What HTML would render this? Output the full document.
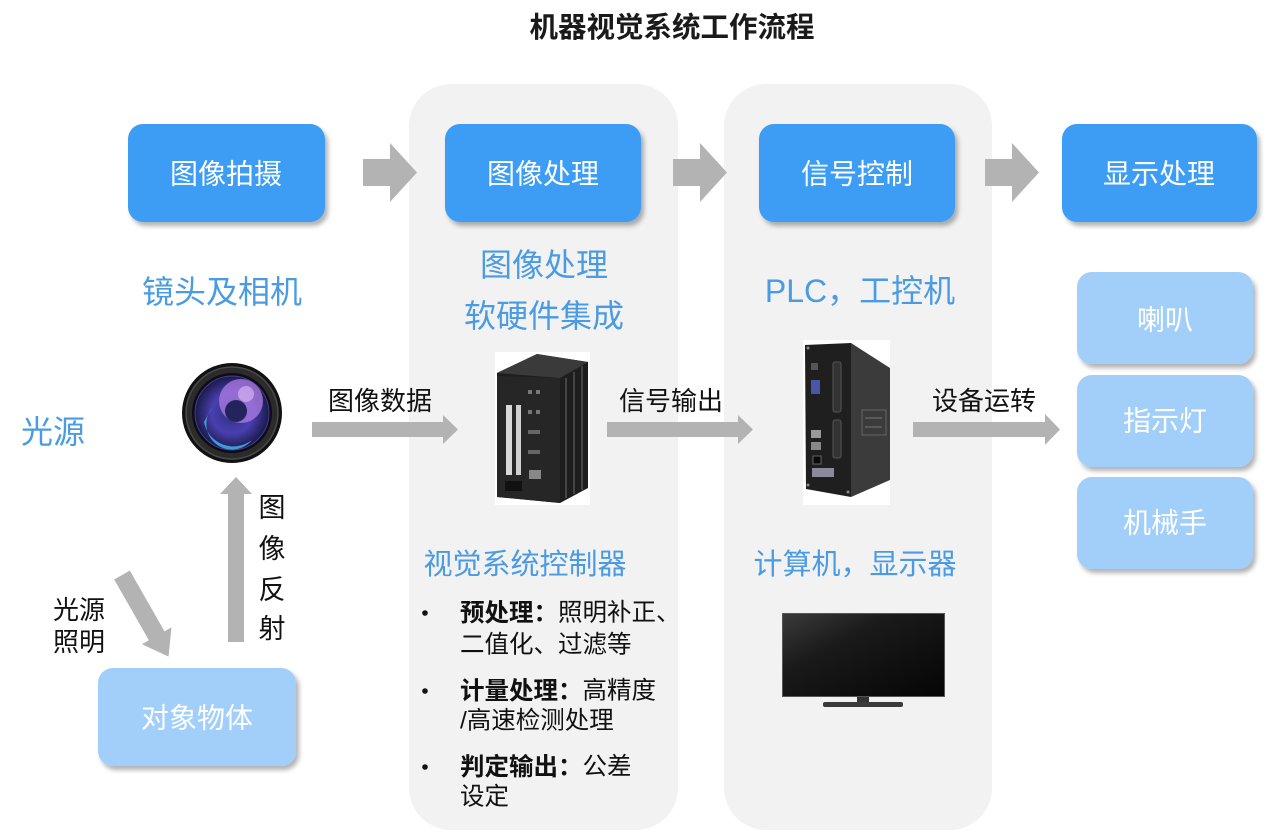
<!DOCTYPE html>
<html>
<head>
<meta charset="utf-8">
<style>
  html,body{margin:0;padding:0;background:#fff;}
  svg{display:block;}
  text{font-family:"Liberation Sans","Noto Sans CJK SC",sans-serif;}
</style>
</head>
<body>
<svg width="1269" height="832" viewBox="0 0 1269 832" xmlns="http://www.w3.org/2000/svg">
  <defs>
    <filter id="sh" x="-10%" y="-10%" width="130%" height="140%">
      <feDropShadow dx="3" dy="4" stdDeviation="2.5" flood-color="#000" flood-opacity="0.3"/>
    </filter>
    <radialGradient id="lens" cx="50%" cy="50%" r="50%">
      <stop offset="0" stop-color="#2a2f7a"/>
      <stop offset="0.55" stop-color="#4a3fb0"/>
      <stop offset="1" stop-color="#1a1a48"/>
    </radialGradient>
    <linearGradient id="tv" x1="0" y1="0" x2="1" y2="1">
      <stop offset="0" stop-color="#3a3a3a"/>
      <stop offset="0.35" stop-color="#1a1a1a"/>
      <stop offset="1" stop-color="#050505"/>
    </linearGradient>
  </defs>

  <!-- Title -->
  <text x="672" y="28" text-anchor="middle" dominant-baseline="central" font-size="28.5" font-weight="bold" fill="#1a1a1a">机器视觉系统工作流程</text>

  <!-- Panels -->
  <rect x="409" y="84" width="269" height="746" rx="42" fill="#f2f2f2"/>
  <rect x="724" y="84" width="268" height="746" rx="42" fill="#f2f2f2"/>

  <!-- Top blue boxes -->
  <g filter="url(#sh)">
    <rect x="128" y="124" width="197" height="98" rx="15" fill="#3e9cf4"/>
    <rect x="445" y="124" width="196" height="98" rx="15" fill="#3e9cf4"/>
    <rect x="759" y="124" width="196" height="98" rx="15" fill="#3e9cf4"/>
    <rect x="1062" y="124" width="195" height="98" rx="15" fill="#3e9cf4"/>
  </g>
  <g font-size="28" fill="#fff" text-anchor="middle" dominant-baseline="central">
    <text x="226" y="174">图像拍摄</text>
    <text x="543" y="174">图像处理</text>
    <text x="857" y="174">信号控制</text>
    <text x="1159" y="174">显示处理</text>
  </g>

  <!-- Top arrows -->
  <g fill="#b3b3b3">
    <polygon points="363,159 390,159 390,143 417,172.5 390,202 390,186 363,186"/>
    <polygon points="673,159 700,159 700,143 727,172.5 700,202 700,186 673,186"/>
    <polygon points="985,159 1012,159 1012,143 1039,172.5 1012,202 1012,186 985,186"/>
  </g>

  <!-- Blue descriptive text -->
  <g fill="#4a9be2" text-anchor="middle" dominant-baseline="central">
    <text x="222" y="292" font-size="32">镜头及相机</text>
    <text x="53" y="432" font-size="32">光源</text>
    <text x="544" y="265" font-size="32">图像处理</text>
    <text x="544" y="316" font-size="32">软硬件集成</text>
    <text x="860" y="291" font-size="32">PLC，工控机</text>
    <text x="525" y="565" font-size="29">视觉系统控制器</text>
    <text x="855" y="565" font-size="29">计算机，显示器</text>
  </g>

  <!-- Right light boxes -->
  <g filter="url(#sh)">
    <rect x="1077" y="272" width="176" height="92" rx="15" fill="#a2cff9"/>
    <rect x="1077" y="375" width="176" height="92" rx="15" fill="#a2cff9"/>
    <rect x="1077" y="477" width="176" height="92" rx="15" fill="#a2cff9"/>
    <rect x="98" y="668" width="198" height="98" rx="15" fill="#a2cff9"/>
  </g>
  <g font-size="28" fill="#fff" text-anchor="middle" dominant-baseline="central">
    <text x="1165" y="320">喇叭</text>
    <text x="1165" y="421">指示灯</text>
    <text x="1165" y="523">机械手</text>
    <text x="197" y="718">对象物体</text>
  </g>

  <!-- Camera lens -->
  <g>
    <circle cx="232" cy="413" r="50" fill="#111"/>
    <circle cx="232" cy="413" r="46" fill="#2b2b2b" stroke="#4a4a4a" stroke-width="1.5"/>
    <circle cx="232" cy="413" r="40" fill="#0c0c18"/>
    <circle cx="232" cy="413" r="37" fill="url(#lens)"/>
    <path d="M204,422 A30,30 0 0 0 252,440 A24,24 0 0 1 212,408 Z" fill="#44a8e8" opacity="0.9"/>
    <circle cx="241" cy="401" r="22" fill="#a878e0" opacity="0.8"/>
    <circle cx="236" cy="411" r="11" fill="#24245c"/>
    <circle cx="246" cy="394" r="8" fill="#e0c0f4" opacity="0.6"/>
    <circle cx="232" cy="413" r="37" fill="none" stroke="#6a55c0" stroke-width="1" opacity="0.6"/>
  </g>

  <!-- Middle arrows -->
  <g fill="#b3b3b3">
    <polygon points="312,422 443,422 443,415 458,429.5 443,444 443,437 312,437"/>
    <polygon points="607,422 738,422 738,415 753,429.5 738,444 738,437 607,437"/>
    <polygon points="913,422 1045,422 1045,414 1060,429.5 1045,445 1045,437 913,437"/>
    <!-- vertical arrow -->
    <polygon points="228,642 228,494 220,494 236,477 252,494 244,494 244,642"/>
    <!-- diagonal arrow -->
    <g transform="translate(122,575) rotate(60.3)">
      <polygon points="0,-9 70,-9 70,-17 94,0 70,17 70,9 0,9"/>
    </g>
  </g>

  <!-- Black labels -->
  <g fill="#111" font-size="26" text-anchor="middle" dominant-baseline="central">
    <text x="380" y="401">图像数据</text>
    <text x="671" y="401">信号输出</text>
    <text x="984" y="401">设备运转</text>
    <text x="79" y="610">光源</text>
    <text x="79" y="642">照明</text>
    <text x="272" y="508" font-size="27">图</text>
    <text x="272" y="549" font-size="27">像</text>
    <text x="272" y="590" font-size="27">反</text>
    <text x="272" y="629" font-size="27">射</text>
  </g>

  <!-- Vision controller device -->
  <g>
    <rect x="495" y="352" width="95" height="153" fill="#fff"/>
    <polygon points="497,373 537,354 588,362 588,488 560,503 497,497" fill="#1e1e1e"/>
    <polygon points="497,373 537,354 588,362 560,378" fill="#3a3a3a"/>
    <polygon points="497,376 560,378 560,503 497,497" fill="#262626"/>
    <rect x="506" y="405" width="6" height="70" fill="#d8d8d8"/>
    <rect x="516" y="405" width="5" height="70" fill="#cfcfcf"/>
    <rect x="505" y="481" width="17" height="10" fill="#111"/>
    <rect x="528" y="390" width="4" height="4" fill="#777"/>
    <rect x="536" y="390" width="4" height="4" fill="#777"/>
    <rect x="528" y="410" width="4" height="4" fill="#777"/>
    <rect x="536" y="410" width="4" height="4" fill="#777"/>
    <rect x="528" y="430" width="12" height="4" fill="#666"/>
    <rect x="528" y="450" width="12" height="4" fill="#666"/>
    <rect x="529" y="470" width="12" height="9" fill="#888"/>
    <line x1="566" y1="378" x2="566" y2="498" stroke="#444" stroke-width="2"/>
    <line x1="574" y1="372" x2="574" y2="494" stroke="#444" stroke-width="2"/>
    <line x1="582" y1="366" x2="582" y2="490" stroke="#444" stroke-width="2"/>
  </g>

  <!-- PLC device -->
  <g>
    <rect x="803" y="340" width="87" height="165" fill="#fff"/>
    <polygon points="805,345 851,343 851,497 806,489" fill="#1f1f1f"/>
    <polygon points="851,343 890,368 890,480 851,497" fill="#3b3b3b"/>
    <rect x="862" y="410" width="24" height="25" fill="none" stroke="#666" stroke-width="1"/>
    <line x1="865" y1="418" x2="882" y2="418" stroke="#777"/>
    <line x1="865" y1="427" x2="882" y2="427" stroke="#777"/>
    <rect x="833" y="362" width="8" height="50" rx="2" fill="#333" stroke="#555"/>
    <rect x="833" y="420" width="8" height="38" rx="2" fill="#333" stroke="#555"/>
    <rect x="811" y="380" width="9" height="14" fill="#4a55a8"/>
    <rect x="811" y="363" width="7" height="7" fill="#555"/>
    <rect x="811" y="430" width="10" height="8" fill="#999"/>
    <rect x="811" y="442" width="10" height="8" fill="#888"/>
    <rect x="813" y="456" width="8" height="8" fill="#0a0a0a" stroke="#666"/>
    <rect x="812" y="468" width="22" height="9" fill="#8a8a9a"/>
    <circle cx="808" cy="348" r="1.5" fill="#888"/>
    <circle cx="808" cy="485" r="1.5" fill="#888"/>
    <circle cx="848" cy="492" r="1.5" fill="#888"/>
  </g>

  <!-- TV -->
  <g>
    <rect x="782" y="613" width="163" height="84" fill="#555"/>
    <rect x="783" y="614" width="161" height="82" fill="url(#tv)"/>
    <rect x="857" y="697" width="12" height="6" fill="#333"/>
    <rect x="823" y="702" width="80" height="5" rx="2" fill="#3a3a3a"/>
  </g>

  <!-- Bullet list -->
  <g fill="#111" font-size="24.5" dominant-baseline="central">
    <circle cx="425" cy="613" r="2.8"/>
    <circle cx="425" cy="691" r="2.8"/>
    <circle cx="425" cy="767" r="2.8"/>
    <text x="460" y="613"><tspan font-weight="bold">预处理：</tspan>照明补正、</text>
    <text x="460" y="645">二值化、过滤等</text>
    <text x="460" y="691"><tspan font-weight="bold">计量处理：</tspan>高精度</text>
    <text x="460" y="721">/高速检测处理</text>
    <text x="460" y="767"><tspan font-weight="bold">判定输出：</tspan>公差</text>
    <text x="460" y="797">设定</text>
  </g>
</svg>
</body>
</html>
